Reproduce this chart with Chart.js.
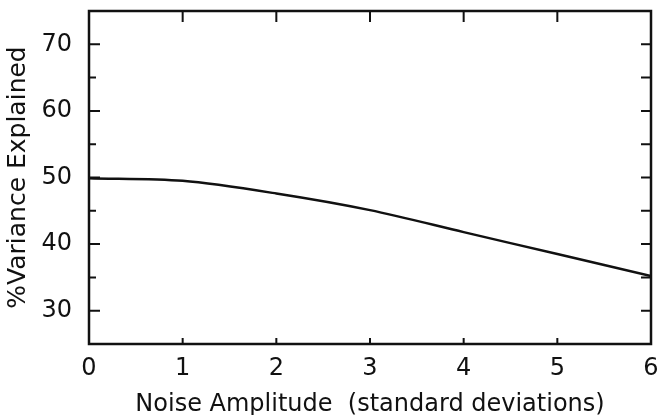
<!DOCTYPE html>
<html>
<head>
<meta charset="utf-8">
<script src="https://cdn.jsdelivr.net/npm/chart.js@4/dist/chart.umd.min.js"></script>
<style>
  html, body { margin: 0; padding: 0; background: #fff; }
  .wrap { width: 671px; height: 415px; position: relative; }
</style>
</head>
<body>
<div class="wrap"><canvas id="chart"></canvas></div>
<script>
// values
const noise = [0, 1, 2, 3, 4, 5, 6];
const variance = [49.9, 49.5, 47.6, 45.1, 41.8, 38.5, 35.2];
const xTicks = [0, 1, 2, 3, 4, 5, 6];
const yTicks = [25, 30, 35, 40, 45, 50, 55, 60, 65, 70, 75];

const font = "'DejaVu Sans', 'Liberation Sans', Arial, sans-serif";

// box frame + inward tick marks, placed with the chart's own scales
const frameTicks = {
  id: 'frameTicks',
  afterDraw(chart) {
    const { ctx, chartArea: a, scales: { x, y } } = chart;
    ctx.save();
    ctx.strokeStyle = '#111';
    ctx.lineWidth = 2.5;
    ctx.strokeRect(a.left, a.top, a.right - a.left, a.bottom - a.top);
    ctx.lineWidth = 2;
    ctx.beginPath();
    yTicks.forEach(v => {
      const py = y.getPixelForValue(v);
      if (v === 25 || v === 75) return;
      const len = v % 10 === 0 ? 11 : 7;
      ctx.moveTo(a.left, py); ctx.lineTo(a.left + len, py);
      ctx.moveTo(a.right, py); ctx.lineTo(a.right - 10, py);
    });
    xTicks.forEach(v => {
      if (v === 0 || v === 6) return;
      const px = x.getPixelForValue(v);
      ctx.moveTo(px, a.bottom); ctx.lineTo(px, a.bottom - 6);
      ctx.moveTo(px, a.top); ctx.lineTo(px, a.top + 11);
    });
    ctx.stroke();
    ctx.restore();
  }
};

new Chart(document.getElementById('chart'), {
  type: 'line',
  data: {
    datasets: [{
      data: noise.map((n, i) => ({ x: n, y: variance[i] })),
      borderColor: '#111',
      borderWidth: 2.5,
      pointRadius: 0,
      tension: 0.3,
      fill: false
    }]
  },
  options: {
    responsive: true,
    maintainAspectRatio: false,
    animation: false,
    layout: { padding: { top: 11, right: 20, left: 0, bottom: 0 } },
    plugins: { legend: { display: false }, tooltip: { enabled: false } },
    scales: {
      x: {
        type: 'linear',
        min: 0,
        max: 6,
        afterBuildTicks(scale) { scale.ticks = xTicks.map(v => ({ value: v })); },
        afterFit(scale) { scale.height = 71; scale.paddingLeft = 0; scale.paddingRight = 0; },
        grid: { display: false },
        border: { display: false },
        ticks: { color: '#111', font: { family: font, size: 24 }, padding: 2, maxRotation: 0 },
        title: {
          display: true,
          text: 'Noise Amplitude  (standard deviations)',
          color: '#111',
          font: { family: font, size: 24 },
          padding: { top: 0, bottom: -4 }
        }
      },
      y: {
        min: 25,
        max: 75,
        afterBuildTicks(scale) { scale.ticks = yTicks.map(v => ({ value: v })); },
        afterFit(scale) { scale.width = 89; scale.paddingTop = 0; scale.paddingBottom = 0; },
        grid: { display: false },
        border: { display: false },
        ticks: {
          color: '#111',
          font: { family: font, size: 24 },
          padding: 9,
          callback(v) { return v % 10 === 0 && v > 25 && v < 75 ? v : ''; }
        },
        title: {
          display: true,
          text: '%Variance Explained',
          color: '#111',
          font: { family: font, size: 25 },
          padding: { top: 3, bottom: 0 }
        }
      }
    }
  },
  plugins: [frameTicks]
});
</script>
</body>
</html>
